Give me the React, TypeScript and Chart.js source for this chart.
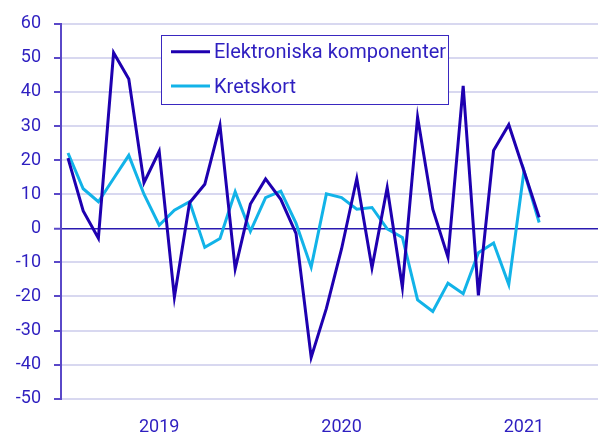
import React, { useEffect, useRef } from "react";
import { Chart, registerables } from "chart.js";

Chart.register(...registerables);

const months: string[] = [
  "2019-01","2019-02","2019-03","2019-04","2019-05","2019-06","2019-07","2019-08","2019-09","2019-10","2019-11","2019-12",
  "2020-01","2020-02","2020-03","2020-04","2020-05","2020-06","2020-07","2020-08","2020-09","2020-10","2020-11","2020-12",
  "2021-01","2021-02","2021-03","2021-04","2021-05","2021-06","2021-07","2021-08",
];

const elektroniska: number[] = [
  20.6, 5.1, -2.9, 51.5, 43.8, 13.4, 22.6, -20.2, 7.5, 12.9, 30.2, -11.9,
  7.1, 14.5, 8.5, -1.5, -37.9, -23.5, -6, 14.6, -11.6, 11.9, -17.3, 32.6,
  5.6, -8.5, 41.8, -19.7, 22.8, 30.4, 16.8, 3.2,
];

const kretskort: number[] = [
  22.1, 11.6, 7.8, 14.6, 21.4, 10, 0.9, 5.3, 7.8, -5.6, -3, 10.7,
  -0.9, 9, 10.9, 1.5, -11.4, 10.1, 9, 5.6, 6.1, -0.2, -2.7, -21,
  -24.4, -16.1, -19.2, -7.2, -4.3, -16.5, 16.8, 1.7,
];

const yearLabels: string[] = ["2019", "2020", "2021"];
const seriesNames: string[] = ["Elektroniska komponenter", "Kretskort"];

const TEXT = "#2e1fc0";
const DARK = "#1e00b0";
const CYAN = "#12b3e8";

const legendPlugin = {
  id: "boxLegend",
  afterDraw(chart: any) {
    const ctx = chart.ctx;
    const x0 = 161.5, y0 = 35.5, w = 287, h = 69;
    ctx.save();
    ctx.fillStyle = "#ffffff";
    ctx.fillRect(x0, y0, w, h);
    ctx.strokeStyle = "#3a28c0";
    ctx.lineWidth = 1;
    ctx.strokeRect(x0, y0, w, h);
    const rows = [51.7, 86];
    chart.data.datasets.forEach((ds: any, i: number) => {
      const y = rows[i];
      ctx.strokeStyle = ds.borderColor;
      ctx.lineWidth = 3;
      ctx.beginPath();
      ctx.moveTo(171, y);
      ctx.lineTo(210, y);
      ctx.stroke();
      ctx.fillStyle = TEXT;
      ctx.font = "20px Roboto";
      ctx.textBaseline = "alphabetic";
      ctx.textAlign = "left";
      ctx.fillText(ds.label, 214, y + 6.5);
    });
    ctx.restore();
  },
};

export default function App() {
  const ref = useRef<HTMLCanvasElement | null>(null);
  useEffect(() => {
    document.body.style.margin = "0";
    if (!ref.current) return;
    const chart = new Chart(ref.current, {
      type: "line",
      data: {
        datasets: [
          {
            label: seriesNames[0],
            data: months.map((m, i) => ({ x: i, y: elektroniska[i] })),
            borderColor: DARK,
            borderWidth: 3,
            pointRadius: 0,
            tension: 0,
          },
          {
            label: seriesNames[1],
            data: months.map((m, i) => ({ x: i, y: kretskort[i] })),
            borderColor: CYAN,
            borderWidth: 3,
            pointRadius: 0,
            tension: 0,
          },
        ],
      },
      options: {
        animation: false,
        responsive: false,
        layout: { padding: { top: 21.7, right: 0, left: 0, bottom: 0 } },
        plugins: { legend: { display: false }, tooltip: { enabled: false } },
        scales: {
          x: {
            type: "linear",
            min: -0.46,
            max: 34.87,
            grid: { display: false, drawTicks: false },
            border: { display: false },
            afterBuildTicks: (scale: any) => {
              scale.ticks = [{ value: 6 }, { value: 18 }, { value: 30 }];
            },
            afterFit: (scale: any) => {
              scale.height = 35.3;
            },
            ticks: {
              autoSkip: false,
              maxRotation: 0,
              padding: 18,
              color: TEXT,
              font: { family: "Roboto", size: 18 },
              callback: (v: any) => yearLabels[(Number(v) - 6) / 12] ?? "",
            },
          },
          y: {
            min: -50,
            max: 60,
            afterFit: (scale: any) => {
              scale.width = 61;
            },
            ticks: {
              stepSize: 10,
              padding: 13,
              color: TEXT,
              font: { family: "Roboto", size: 18 },
            },
            grid: {
              color: (c: any) => (c.tick && c.tick.value === 0 ? "#2a1ab0" : "#d8d8f0"),
              lineWidth: (c: any) => (c.tick && c.tick.value === 0 ? 1.5 : 2),
              tickLength: 7,
              tickColor: "#5a48c8",
              tickWidth: 2,
            },
            border: { display: true, color: "#5a48c8", width: 2 },
          },
        },
      },
      plugins: [legendPlugin],
    });
    return () => chart.destroy();
  }, []);
  return (
    <div style={{ position: "fixed", left: 0, top: 0, width: 598, height: 434, background: "#fff" }}>
      <canvas ref={ref} width={598} height={434} style={{ width: 598, height: 434 }} />
    </div>
  );
}
